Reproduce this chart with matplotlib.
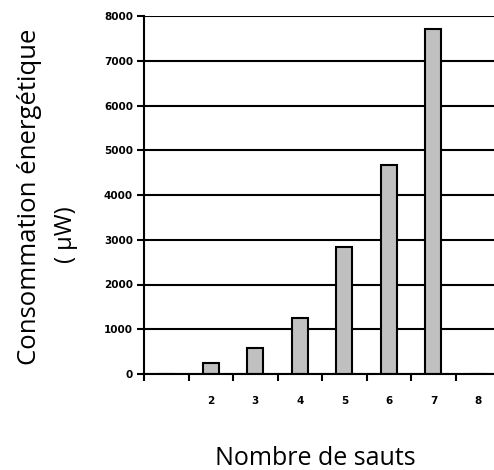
import matplotlib
matplotlib.use("Agg")
import matplotlib.pyplot as plt
import numpy as np

# energy use vs number of hops, bar chart with an empty first slot
CATEGORIES = ["", "2", "3", "4", "5", "6", "7", "8"]
VALUES = [np.nan, 240, 575, 1245, 2830, 4670, 7700, np.nan]
Y_TICKS = [0, 1000, 2000, 3000, 4000, 5000, 6000, 7000, 8000]
OUTPUT_PATH = "out.png"

def main() -> None:
    fig = plt.figure(figsize=(4.94, 4.70), dpi=100)
    ax = fig.add_axes([144 / 494, 1 - 374 / 470, 1 - 144 / 494, (374 - 16) / 470])

    x = np.arange(len(CATEGORIES))
    heights = [0 if np.isnan(v) else v for v in VALUES]
    ax.bar(x, heights, width=0.36, color="#c0c0c0", edgecolor="black", linewidth=1.5, zorder=3)

    ax.set_ylim(0, 8000)
    ax.set_xlim(-0.5, 7.36)
    ax.set_yticks(Y_TICKS)
    ax.set_yticklabels([str(t) for t in Y_TICKS], fontsize=7.5, fontweight="bold")
    ax.yaxis.grid(True, color="black", linewidth=1.5, zorder=0)

    # ticks sit on category boundaries, labels in the middle
    ax.set_xticks(x - 0.5)
    ax.set_xticklabels([])
    ax.set_xticks(x, minor=True)
    ax.set_xticklabels(CATEGORIES, minor=True, fontsize=7.5, fontweight="bold")
    ax.tick_params(axis="x", which="minor", length=0, pad=16)
    ax.tick_params(axis="x", which="major", length=5, width=1.5, direction="out")
    ax.tick_params(axis="y", length=5, width=1.5, direction="out", pad=3)

    for side in ("top", "right"):
        ax.spines[side].set_visible(False)
    for side in ("left", "bottom"):
        ax.spines[side].set_linewidth(1.5)
        ax.spines[side].set_zorder(4)

    fig.text(315 / 494, 1 - 465 / 470, "Nombre de sauts", ha="center", va="baseline",
             fontsize=18, family="Open Sans")
    fig.text(30 / 494, 1 - 197 / 470, "Consommation énergétique", ha="center", va="center",
             rotation=90, fontsize=18.5, family="Open Sans")
    fig.text(66 / 494, 1 - 235 / 470, "( μW)", ha="center", va="center",
             rotation=90, fontsize=17, family="Open Sans")

    fig.savefig(OUTPUT_PATH, dpi=100)

if __name__ == "__main__":
    main()
